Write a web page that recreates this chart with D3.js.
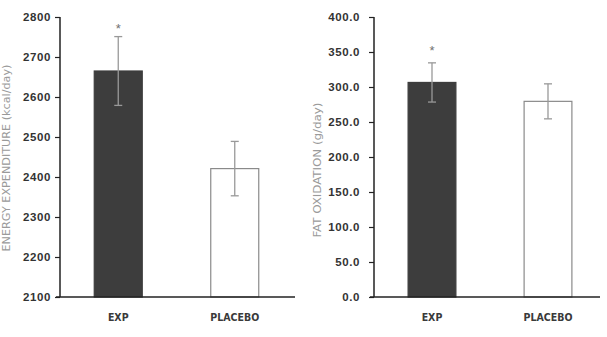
<!DOCTYPE html>
<html><head><meta charset="utf-8">
<script src="https://cdn.jsdelivr.net/npm/d3@7"></script>
<style>
body{margin:0;background:#fff;}
svg{display:block;}
</style></head>
<body>
<svg id="c" width="607" height="337"></svg>
<script>
const categories = ["EXP", "PLACEBO"];
const energyValues = [2665, 2421];
const energyErrors = [86, 68];
const energyTicks = [2100, 2200, 2300, 2400, 2500, 2600, 2700, 2800];
const fatValues = [306.5, 279.5];
const fatErrors = [28, 25];
const fatTicks = [0, 50, 100, 150, 200, 250, 300, 350, 400];
const significant = [true, false];
const barFills = ["#3d3d3d", "#ffffff"];
const barStrokes = ["#3d3d3d", "#8a8a8a"];

const svg = d3.select("#c");

function panel(opt) {
  const y = d3.scaleLinear().domain(opt.domain).range([297, 17]);
  const x = d3.scaleBand().domain(categories).range(opt.xRange)
    .paddingInner(0.588).paddingOuter(0.294);
  const g = svg.append("g");

  g.selectAll("rect.bar").data(categories).join("rect")
    .attr("x", d => x(d)).attr("width", x.bandwidth())
    .attr("y", (d, i) => y(opt.values[i]))
    .attr("height", (d, i) => y(opt.domain[0]) - y(opt.values[i]))
    .attr("fill", (d, i) => barFills[i])
    .attr("stroke", (d, i) => barStrokes[i]).attr("stroke-width", 1.2);

  const eb = g.selectAll("g.err").data(categories).join("g")
    .attr("transform", d => `translate(${x(d) + x.bandwidth() / 2},0)`)
    .attr("stroke", "#999").attr("stroke-width", 1.3).attr("fill", "none");
  eb.append("line").attr("y1", (d, i) => y(opt.values[i] + opt.errors[i]))
    .attr("y2", (d, i) => y(opt.values[i] - opt.errors[i]));
  eb.append("line").attr("x1", -4).attr("x2", 4)
    .attr("y1", (d, i) => y(opt.values[i] + opt.errors[i]))
    .attr("y2", (d, i) => y(opt.values[i] + opt.errors[i]));
  eb.append("line").attr("x1", -4).attr("x2", 4)
    .attr("y1", (d, i) => y(opt.values[i] - opt.errors[i]))
    .attr("y2", (d, i) => y(opt.values[i] - opt.errors[i]));

  g.selectAll("text.star").data(categories.filter((d, i) => significant[i])).join("text")
    .attr("x", d => x(d) + x.bandwidth() / 2)
    .attr("y", d => y(opt.values[categories.indexOf(d)] + opt.errors[categories.indexOf(d)]) - opt.starGap)
    .attr("text-anchor", "middle")
    .attr("font-family", "Liberation Sans, sans-serif").attr("font-size", 13)
    .attr("fill", "#707070").text("*");

  const ax = g.append("g").attr("transform", `translate(${opt.xRange[0]},0)`)
    .call(d3.axisLeft(y).tickValues(opt.ticks).tickFormat(opt.fmt).tickSize(5).tickPadding(opt.pad));
  ax.select(".domain").attr("stroke", "#222").attr("stroke-width", 1.5)
    .attr("d", `M0,${y(opt.domain[1])}V${y(opt.domain[0])}`);
  ax.selectAll(".tick line").attr("stroke", "#222").attr("stroke-width", 1.2);
  ax.selectAll(".tick text").attr("font-family", "Liberation Sans, Arial, sans-serif")
    .attr("font-weight", "bold").attr("font-size", 11.5).attr("fill", "#333")
    .attr("letter-spacing", 0.6);

  g.append("line").attr("x1", opt.xRange[0] - 4).attr("x2", opt.baseEnd)
    .attr("y1", y(opt.domain[0])).attr("y2", y(opt.domain[0]))
    .attr("stroke", "#222").attr("stroke-width", 1.6);

  g.selectAll("text.cat").data(categories).join("text")
    .attr("x", d => x(d) + x.bandwidth() / 2).attr("y", 321)
    .attr("text-anchor", "middle")
    .attr("font-family", "DejaVu Sans Condensed, DejaVu Sans, sans-serif")
    .attr("font-weight", "bold").attr("font-size", 10.5).attr("fill", "#3a3a3a")
    .text(d => d);

  g.append("text").attr("transform", `translate(${opt.titleX},${opt.titleY}) rotate(-90)`)
    .attr("text-anchor", "middle")
    .attr("font-family", "DejaVu Sans Condensed, DejaVu Sans, sans-serif")
    .attr("font-size", 10).attr("fill", "#9a9a9a")
    .attr("textLength", opt.titleLen).attr("lengthAdjust", "spacingAndGlyphs")
    .text(opt.title);
}

panel({
  domain: [2100, 2800], xRange: [60, 293], baseEnd: 295,
  values: energyValues, errors: energyErrors, ticks: energyTicks,
  fmt: d3.format("d"), pad: 4, starGap: 4,
  title: "ENERGY EXPENDITURE (kcal/day)", titleX: 10, titleY: 158, titleLen: 187
});
panel({
  domain: [0, 400], xRange: [374, 606], baseEnd: 600,
  values: fatValues, errors: fatErrors, ticks: fatTicks,
  fmt: d3.format(".1f"), pad: 9, starGap: 8,
  title: "FAT OXIDATION (g/day)", titleX: 321, titleY: 170, titleLen: 135
});
</script>
</body></html>
